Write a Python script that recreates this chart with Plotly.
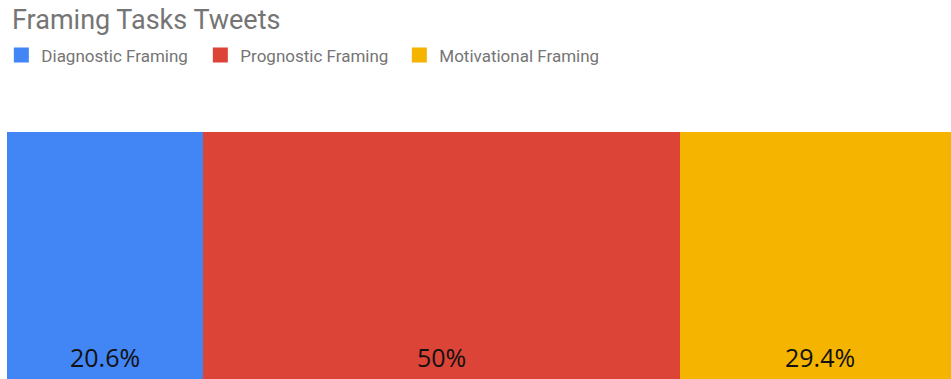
import plotly.graph_objects as go

categories = ["Diagnostic Framing", "Prognostic Framing", "Motivational Framing"]
values = [20.6, 50, 29.4]
labels = ["20.6%", "50%", "29.4%"]
colors = ["#4285F4", "#DB4437", "#F4B400"]

fig = go.Figure()

# stacked 100% horizontal bar
for cat, val, col in zip(categories, values, colors):
    fig.add_trace(go.Bar(
        x=[val], y=[0], orientation="h", name=cat,
        marker=dict(color=col, line=dict(width=0)),
        width=1, showlegend=False, hoverinfo="skip",
    ))

# legend entries (square markers)
for cat, col in zip(categories, colors):
    fig.add_trace(go.Scatter(
        x=[None], y=[None], mode="markers", name=cat,
        marker=dict(symbol="square", size=15, color=col),
        showlegend=True,
    ))

# percentage labels centred in each segment, near the bottom
cum = 0
for val, lab in zip(values, labels):
    fig.add_annotation(
        x=cum + val / 2, xref="x", y=0.09, yref="paper",
        text=lab, showarrow=False, xanchor="center", yanchor="middle",
        font=dict(family="Open Sans, Noto Sans, sans-serif", size=25, color="#111111"),
    )
    cum += val

fig.update_layout(
    width=951, height=379,
    barmode="stack",
    bargap=0,
    paper_bgcolor="white", plot_bgcolor="white",
    margin=dict(l=7, r=0, t=132, b=0, autoexpand=False),
    title=dict(
        text="Framing Tasks Tweets",
        x=12 / 951, xref="container", xanchor="left",
        y=1 - 20 / 379, yref="container", yanchor="middle",
        font=dict(family="Roboto, sans-serif", size=27, color="#757575"),
    ),
    legend=dict(
        orientation="h", x=-0.006, xanchor="left", y=1.31, yanchor="middle",
        traceorder="normal",
        entrywidth=154, entrywidthmode="pixels",
        font=dict(family="Roboto, sans-serif", size=17, color="#757575"),
        bgcolor="rgba(0,0,0,0)",
    ),
    xaxis=dict(range=[0, 99.06], visible=False, fixedrange=True),
    yaxis=dict(range=[-0.3, 0.5], visible=False, fixedrange=True),
    showlegend=True,
)

fig.write_html(
    "out.html",
    config={"displayModeBar": False},
    post_script="document.body.style.margin='0';document.body.style.overflow='hidden';",
)
